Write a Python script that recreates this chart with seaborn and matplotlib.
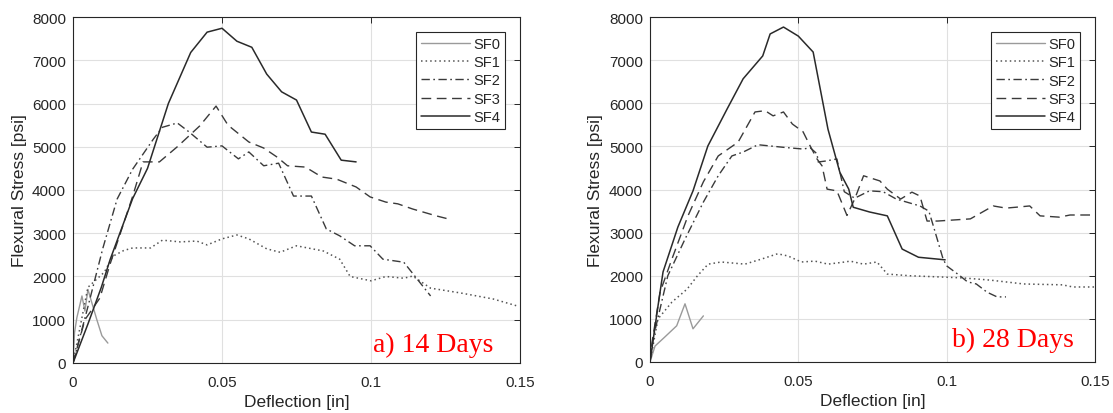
import numpy as np
import pandas as pd
import matplotlib
matplotlib.use("Agg")
import matplotlib.pyplot as plt
import seaborn as sns

# ---------------- data: 14 days ----------------
sf0_14_x = [0, 0.0005, 0.0013, 0.003, 0.004, 0.005, 0.0065, 0.008, 0.0097, 0.0117]
sf0_14_y = [0, 700, 1050, 1550, 1200, 1700, 1350, 1000, 630, 460]

sf1_14_x = [0, 0.005, 0.0105, 0.0134, 0.017, 0.020, 0.026, 0.030, 0.036, 0.0415, 0.045,
            0.050, 0.055, 0.059, 0.065, 0.0695, 0.075, 0.084, 0.0895, 0.093, 0.100, 0.105,
            0.111, 0.114, 0.120, 0.130, 0.141, 0.149]
sf1_14_y = [0, 1750, 2100, 2470, 2600, 2660, 2660, 2840, 2800, 2820, 2730,
            2870, 2960, 2870, 2640, 2560, 2710, 2590, 2400, 2000, 1900, 2000,
            1960, 2010, 1730, 1620, 1480, 1320]

sf2_14_x = [0, 0.005, 0.010, 0.0148, 0.020, 0.027, 0.030, 0.035, 0.039, 0.045, 0.050,
            0.0555, 0.059, 0.064, 0.069, 0.074, 0.080, 0.085, 0.0895, 0.0945, 0.0997,
            0.104, 0.111, 0.1155, 0.120]
sf2_14_y = [0, 1300, 2650, 3790, 4480, 5180, 5450, 5550, 5340, 4990, 5020,
            4720, 4880, 4560, 4620, 3860, 3860, 3100, 2940, 2710, 2710,
            2400, 2330, 1940, 1550]

sf3_14_x = [0, 0.004, 0.009, 0.0125, 0.020, 0.0235, 0.029, 0.035, 0.0425, 0.048, 0.052,
            0.059, 0.064, 0.0685, 0.072, 0.078, 0.0835, 0.0885, 0.095, 0.0997, 0.105,
            0.109, 0.114, 0.122, 0.126]
sf3_14_y = [0, 1000, 1500, 2300, 3850, 4650, 4650, 5000, 5480, 5940, 5500,
            5110, 4970, 4760, 4560, 4530, 4300, 4250, 4070, 3840, 3720,
            3680, 3560, 3400, 3330]

sf4_14_x = [0, 0.005, 0.0095, 0.0125, 0.020, 0.025, 0.032, 0.0395, 0.045, 0.050, 0.055,
            0.060, 0.065, 0.070, 0.075, 0.080, 0.0846, 0.090, 0.095]
sf4_14_y = [0, 900, 1750, 2400, 3800, 4500, 6000, 7180, 7650, 7740, 7440,
            7300, 6680, 6270, 6080, 5340, 5290, 4690, 4650]

# ---------------- data: 28 days ----------------
sf0_28_x = [0, 0.0017, 0.005, 0.009, 0.0118, 0.0145, 0.018]
sf0_28_y = [0, 370, 580, 840, 1350, 770, 1070]

sf1_28_x = [0, 0.0027, 0.0074, 0.0125, 0.016, 0.0196, 0.024, 0.032, 0.0377, 0.043, 0.0465,
            0.051, 0.0556, 0.060, 0.0657, 0.0675, 0.072, 0.0765, 0.080, 0.0877, 0.0988,
            0.1055, 0.1146, 0.126, 0.139, 0.1426, 0.150]
sf1_28_y = [0, 1000, 1390, 1690, 2000, 2270, 2320, 2270, 2390, 2510, 2460,
            2320, 2340, 2270, 2320, 2340, 2270, 2320, 2040, 2000, 1970,
            1950, 1900, 1810, 1790, 1740, 1740]

sf2_28_x = [0, 0.001, 0.006, 0.0118, 0.018, 0.023, 0.0276, 0.0314, 0.0364, 0.045, 0.0516,
            0.054, 0.0563, 0.0567, 0.059, 0.063, 0.0655, 0.069, 0.074, 0.0786, 0.083,
            0.091, 0.094, 0.0955, 0.0988, 0.100, 0.1045, 0.107, 0.110, 0.1136, 0.117, 0.120]
sf2_28_y = [0, 530, 2000, 2850, 3710, 4320, 4780, 4870, 5040, 4980, 4940,
            4970, 4830, 4640, 4660, 4710, 3950, 3800, 3970, 3950, 3780,
            3620, 3500, 3160, 2390, 2230, 2000, 1860, 1810, 1620, 1510, 1510]

sf3_28_x = [0, 0.0007, 0.0034, 0.0074, 0.0128, 0.018, 0.023, 0.0297, 0.0354, 0.0388, 0.0415,
            0.045, 0.048, 0.0516, 0.054, 0.0563, 0.058, 0.0597, 0.063, 0.0664, 0.069,
            0.072, 0.0775, 0.080, 0.0845, 0.0883, 0.091, 0.0934, 0.097, 0.108, 0.1157,
            0.120, 0.125, 0.128, 0.1315, 0.138, 0.1416, 0.150]
sf3_28_y = [0, 460, 1620, 2390, 3390, 4180, 4780, 5100, 5800, 5830, 5710,
            5800, 5520, 5340, 5010, 4710, 4550, 4010, 3970, 3400, 3780,
            4320, 4200, 4010, 3780, 3940, 3850, 3270, 3270, 3320, 3620,
            3570, 3600, 3620, 3390, 3360, 3410, 3410]

sf4_28_x = [0, 0.0027, 0.0044, 0.0094, 0.0145, 0.0195, 0.026, 0.0314, 0.038, 0.0405, 0.045,
            0.050, 0.055, 0.060, 0.064, 0.067, 0.0685, 0.074, 0.080, 0.085, 0.0905, 0.0995]
sf4_28_y = [0, 1300, 2090, 3130, 3970, 5010, 5870, 6570, 7100, 7610, 7770,
            7560, 7190, 5400, 4400, 4010, 3590, 3480, 3390, 2620, 2430, 2370]

labels = ["SF0", "SF1", "SF2", "SF3", "SF4"]
x_ticks = [0, 0.05, 0.1, 0.15]
x_tick_labels = ["0", "0.05", "0.1", "0.15"]
y_ticks = [0, 1000, 2000, 3000, 4000, 5000, 6000, 7000, 8000]
panel_titles = ["a) 14 Days", "b) 28 Days"]

panels = [
    [(sf0_14_x, sf0_14_y), (sf1_14_x, sf1_14_y), (sf2_14_x, sf2_14_y),
     (sf3_14_x, sf3_14_y), (sf4_14_x, sf4_14_y)],
    [(sf0_28_x, sf0_28_y), (sf1_28_x, sf1_28_y), (sf2_28_x, sf2_28_y),
     (sf3_28_x, sf3_28_y), (sf4_28_x, sf4_28_y)],
]

styles = [
    dict(color="#9a9a9a", linestyle="-", linewidth=1.0),
    dict(color="#555555", linestyle=(0, (1, 2)), linewidth=1.1),
    dict(color="#3a3a3a", linestyle=(0, (6, 2.5, 1.2, 2.5)), linewidth=1.0),
    dict(color="#3a3a3a", linestyle=(0, (7, 4)), linewidth=1.0),
    dict(color="#2a2a2a", linestyle="-", linewidth=1.1),
]

sns.set_style("white")
plt.rcParams["font.family"] = ["Liberation Sans", "DejaVu Sans"]

fig = plt.figure(figsize=(11.13, 4.14), dpi=100)
ax_boxes = [[0.0656, 0.1208, 0.4016, 0.8357], [0.584, 0.1232, 0.3998, 0.833]]
text_pos = [(0.671, 0.035), (0.679, 0.046)]

for pi, series in enumerate(panels):
    ax = fig.add_axes(ax_boxes[pi])
    for (xs, ys), lab, st in zip(series, labels, styles):
        df = pd.DataFrame({"x": xs, "y": ys})
        sns.lineplot(data=df, x="x", y="y", ax=ax, estimator=None, sort=False,
                     label=lab, **st)
    ax.set_xlim(0, 0.15)
    ax.set_ylim(0, 8000)
    ax.set_xticks(x_ticks)
    ax.set_xticklabels(x_tick_labels)
    ax.set_yticks(y_ticks)
    ax.grid(True, color="#e0e0e0", linewidth=0.8)
    ax.set_axisbelow(True)
    ax.tick_params(direction="in", top=True, right=True, length=4, width=0.7,
                   labelsize=11, colors="#262626")
    ax.tick_params(axis="x", pad=9)
    ax.tick_params(axis="y", pad=5)
    for sp in ax.spines.values():
        sp.set_visible(True)
        sp.set_color("#262626")
        sp.set_linewidth(0.8)
    ax.set_xlabel("Deflection [in]", fontsize=12.5, color="#262626", labelpad=3)
    ax.set_ylabel("Flexural Stress [psi]", fontsize=12.5, color="#262626", labelpad=4)
    leg = ax.legend(loc="upper right", fontsize=10.5, frameon=True, fancybox=False,
                    edgecolor="#262626", framealpha=1, handlelength=3.4,
                    handletextpad=0.2, labelspacing=0.3, borderaxespad=1.0,
                    borderpad=0.35)
    leg.get_frame().set_linewidth(0.8)
    ax.text(text_pos[pi][0], text_pos[pi][1], panel_titles[pi], transform=ax.transAxes,
            color="red", fontsize=20, family="Liberation Serif", va="baseline",
            ha="left")

fig.savefig("out.png", dpi=100)
